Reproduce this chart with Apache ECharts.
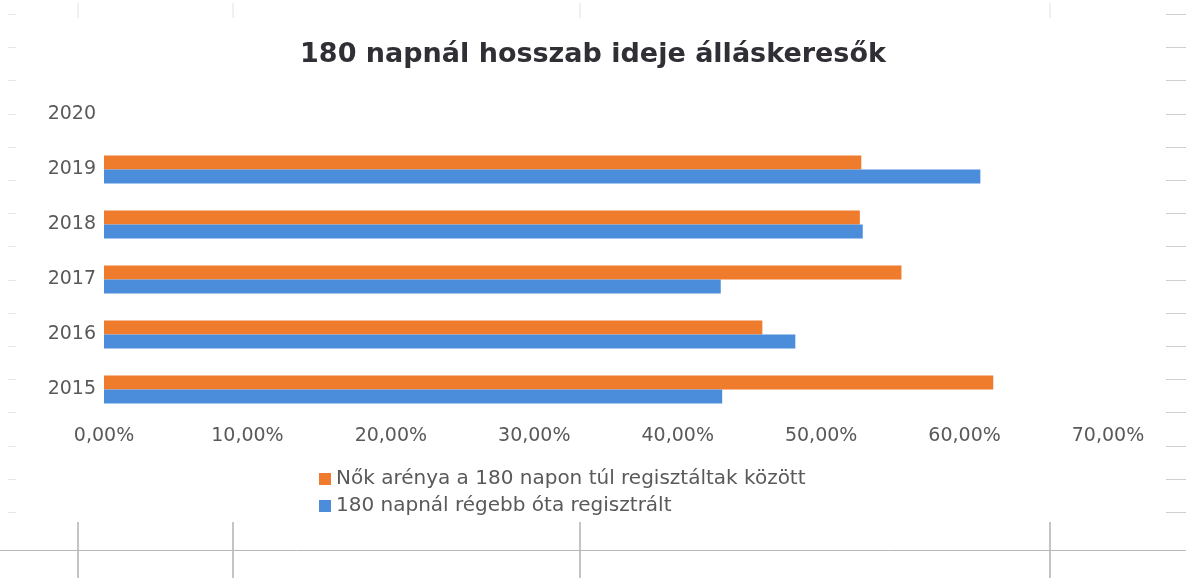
<!DOCTYPE html>
<html>
<head>
<meta charset="utf-8">
<script src="https://cdn.jsdelivr.net/npm/echarts@6/dist/echarts.min.js"></script>
<style>
  html, body { margin: 0; padding: 0; background: #fff; }
  #chart { width: 1186px; height: 578px; }
</style>
</head>
<body>
<div id="chart"></div>
<script>
const years = ['2015', '2016', '2017', '2018', '2019', '2020']
const xTicks = [0, 0.1, 0.2, 0.3, 0.4, 0.5, 0.6, 0.7]
// Nők aránya a 180 napon túl regisztáltak között
const womenShare = [0.620, 0.459, 0.556, 0.527, 0.528, null]
// 180 napnál régebb óta regisztrált
const longTerm = [0.431, 0.482, 0.430, 0.529, 0.611, null]

const seriesNames = ['Nők arénya a 180 napon túl regisztáltak között', '180 napnál régebb óta regisztrált']
const colors = ['#EF7B2D', '#4B8DDB']

const font = 'DejaVu Sans'
const textColor = '#595959'

// spreadsheet cell borders around the chart object
const sheetLines = []
const colX = [78, 233, 580, 1050]
colX.forEach(x => {
  sheetLines.push({ type: 'line', shape: { x1: x, y1: 3, x2: x, y2: 18 }, style: { stroke: '#e2e2e2', lineWidth: 1 } })
  sheetLines.push({ type: 'line', shape: { x1: x, y1: 522, x2: x, y2: 578 }, style: { stroke: '#8a8a8a', lineWidth: 1 } })
})
for (let i = 0; i < 16; i++) {
  const y = Math.round(14 + i * 33.2) + 0.5
  sheetLines.push({ type: 'line', shape: { x1: 1166, y1: y, x2: 1186, y2: y }, style: { stroke: '#cfcfcf', lineWidth: 1 } })
  sheetLines.push({ type: 'line', shape: { x1: 8, y1: y, x2: 16, y2: y }, style: { stroke: '#e6e6e6', lineWidth: 1 } })
}
sheetLines.push({ type: 'line', shape: { x1: 0, y1: 550.5, x2: 1186, y2: 550.5 }, style: { stroke: '#b8b8b8', lineWidth: 1 } })

const chart = echarts.init(document.getElementById('chart'), null, { renderer: 'canvas' })

chart.setOption({
  backgroundColor: '#ffffff',
  animation: false,
  title: {
    text: '180 napnál hosszab ideje álláskeresők',
    left: 'center',
    top: 36,
    textStyle: { fontFamily: font, fontSize: 27, fontWeight: 'bold', color: '#2f2f35' }
  },
  legend: {
    orient: 'vertical',
    left: 314,
    top: 464,
    itemWidth: 12,
    itemHeight: 12,
    itemGap: 7,
    data: seriesNames,
    icon: 'rect',
    textStyle: { fontFamily: font, fontSize: 20, color: textColor }
  },
  grid: {
    left: 104,
    right: 78,
    top: 87,
    bottom: 161,
    containLabel: false
  },
  xAxis: {
    type: 'value',
    min: xTicks[0],
    max: xTicks[xTicks.length - 1],
    interval: 0.1,
    axisLine: { show: false },
    axisTick: { show: false },
    splitLine: { show: false },
    axisLabel: {
      margin: 10,
      fontFamily: font,
      fontSize: 19,
      color: textColor,
      formatter: v => (v * 100).toFixed(2).replace('.', ',') + '%'
    }
  },
  yAxis: {
    type: 'category',
    data: years,
    axisLine: { show: false },
    axisTick: { show: false },
    axisLabel: { margin: 8, fontFamily: font, fontSize: 19, color: textColor }
  },
  series: [
    {
      name: seriesNames[0],
      type: 'bar',
      data: womenShare,
      barWidth: 14,
      barGap: '0%',
      itemStyle: { color: colors[0] }
    },
    {
      name: seriesNames[1],
      type: 'bar',
      data: longTerm,
      barWidth: 14,
      barGap: '0%',
      itemStyle: { color: colors[1] }
    }
  ],
  graphic: sheetLines
})
</script>
</body>
</html>
